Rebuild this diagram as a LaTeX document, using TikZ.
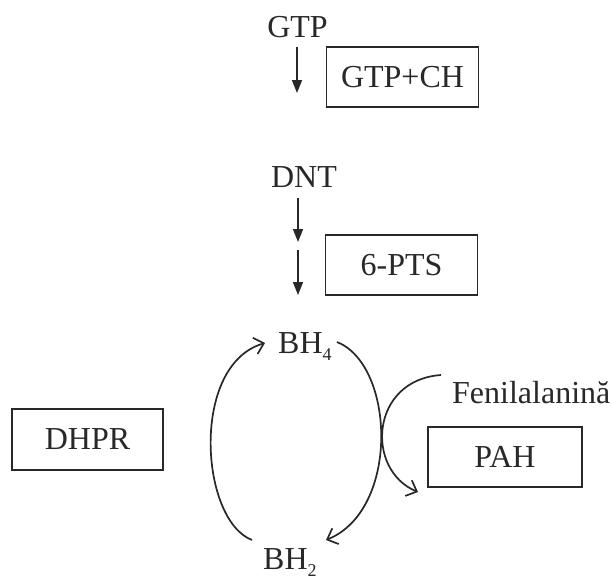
\documentclass[tikz,border=0pt]{standalone}
\usepackage{fontspec}
\setmainfont{Liberation Serif}
\usetikzlibrary{arrows.meta}
\definecolor{ink}{RGB}{40,40,40}
\newcommand{\mysub}[1]{\raisebox{-7pt}{\fontsize{18}{18}\selectfont #1}}
\begin{document}
\begin{tikzpicture}[x=1pt,y=-1pt,
  lbl/.style={inner sep=0pt, text=ink, font=\fontsize{32}{36}\selectfont},
  box/.style={draw=ink, line width=1.7pt, inner sep=0pt, text=ink,
    font=\fontsize{32}{36}\selectfont, minimum height=60pt, minimum width=152pt},
  flow/.style={draw=ink, line width=1.7pt, -{Triangle[length=13pt,width=10pt]}},
  cyc/.style={draw=ink, line width=1.7pt, -{Straight Barb[length=9pt,width=17pt,line width=1.7pt]}}]
\useasboundingbox[fill=white] (0,0) rectangle (611,581);

% top part
\node[lbl, anchor=base] (gtp) at (297.5,37) {GTP};
\node[box] (gtpch) at (402.5,77) {GTP+CH};
\coordinate (g1) at (297,47);
\coordinate (g2) at (297,93);
\draw[flow] (g1) -- (g2);

\node[lbl, anchor=base] (dnt) at (304,187) {DNT};
\node[box] (pts) at (401.5,265) {6-PTS};
\coordinate (d1) at (298,198);
\coordinate (d2) at (298,242);
\coordinate (d3) at (298,250);
\coordinate (d4) at (298,295);
\draw[flow] (d1) -- (d2);
\draw[flow] (d3) -- (d4);

% cycle
\node[lbl, anchor=base west] (bh4) at (278,353) {BH\mysub{4}};
\node[lbl, anchor=base west] (bh2) at (263,569) {BH\mysub{2}};
\node[lbl, anchor=base west] (fen) at (452,403) {Fenilalanină};
\node[box, minimum width=154pt] (pah) at (505,457) {PAH};
\node[box, minimum width=151pt, minimum height=61pt] (dhpr) at (87.5,439.5) {DHPR};

\coordinate (l1) at (252,540);
\coordinate (l2) at (265,343);
\draw[cyc] (l1) .. controls (200,520) and (190,365) .. (l2);

\coordinate (r1) at (337,342);
\coordinate (r2) at (326,540);
\draw[cyc] (r1) .. controls (395,365) and (400,510) .. (r2);

\coordinate (f1) at (441,375);
\coordinate (f2) at (418,492);
\draw[cyc] (f1) .. controls (370,380) and (365,470) .. (f2);
\end{tikzpicture}
\end{document}
